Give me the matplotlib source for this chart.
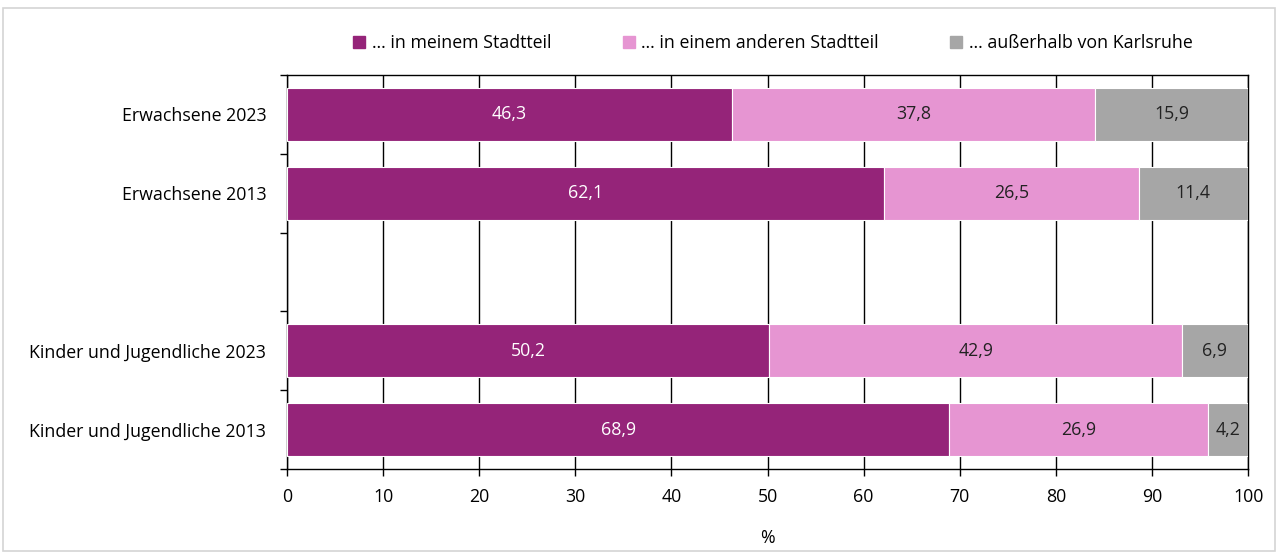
import matplotlib.pyplot as plt
from matplotlib.patches import Rectangle
from matplotlib.lines import Line2D

plt.rcParams['font.family'] = ['Open Sans', 'DejaVu Sans']

gruppen = ['Erwachsene 2023', 'Erwachsene 2013', '',
           'Kinder und Jugendliche 2023', 'Kinder und Jugendliche 2013']
stadtteil = [46.3, 62.1, None, 50.2, 68.9]
anderer = [37.8, 26.5, None, 42.9, 26.9]
ausserhalb = [15.9, 11.4, None, 6.9, 4.2]

serien = ['… in meinem Stadtteil', '… in einem anderen Stadtteil', '… außerhalb von Karlsruhe']
farben = ['#952479', '#E695D2', '#A6A6A6']
textfarben = ['white', '#222222', '#222222']
fs = 12.8

fig = plt.figure(figsize=(12.78, 5.54), dpi=100)
ax = fig.add_axes([0.2246, 0.1534, 0.752, 0.7112])

# Rahmen um die ganze Grafik
fig.patches.append(Rectangle((0.0025, 0.005), 0.995, 0.98, transform=fig.transFigure,
                             fill=False, edgecolor='#d4d4d4', linewidth=1.2))

for i, g in enumerate(gruppen):
    if stadtteil[i] is None:
        continue
    links = 0
    for werte, farbe, tf in zip([stadtteil, anderer, ausserhalb], farben, textfarben):
        w = werte[i]
        ax.barh(i, w, left=links, height=0.67, color=farbe, edgecolor='white',
                linewidth=0.8, zorder=3)
        ax.text(links + w / 2, i, f'{w:.1f}'.replace('.', ','), ha='center', va='center',
                color=tf, fontsize=fs, zorder=4)
        links += w

ax.set_xlim(0, 100)
ax.set_ylim(4.5, -0.5)
ax.set_xticks(range(0, 101, 10))
ax.set_yticks([i - 0.5 for i in range(6)])
ax.set_yticklabels([])
ax.set_yticks(range(5), minor=True)
ax.set_yticklabels(gruppen, minor=True)
ax.tick_params(axis='y', which='minor', length=0, pad=15, labelsize=fs)
ax.tick_params(axis='y', which='major', length=5, width=1, direction='out')
ax.tick_params(axis='x', length=5, width=1, labelsize=fs, pad=9)
ax.grid(axis='x', color='black', linewidth=1, zorder=0)
for s in ax.spines.values():
    s.set_linewidth(1)
ax.set_xlabel('%', fontsize=fs, labelpad=16)

handles = [Line2D([], [], marker='s', linestyle='none', markersize=8,
                  markerfacecolor=f, markeredgecolor=f) for f in farben]
fig.legend(handles, serien, loc='center', bbox_to_anchor=(0.605, 0.922), ncol=3,
           frameon=False, fontsize=fs, handlelength=0.6, handletextpad=0.4,
           columnspacing=4.05)

fig.savefig('out.png', dpi=100)
